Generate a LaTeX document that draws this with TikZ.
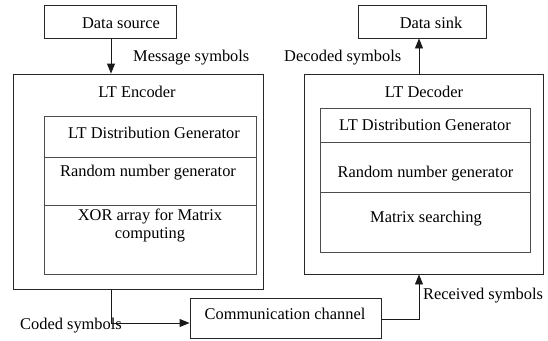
\documentclass[tikz,border=0pt]{standalone}
\usepackage{fontspec}
\setmainfont{Liberation Serif}
\usetikzlibrary{arrows.meta}
\begin{document}
\begin{tikzpicture}[x=1pt,y=-1pt,
  box/.style={draw=black!85,line width=0.9pt,inner sep=0pt,rectangle},
  part/.style={draw=black!70,line width=0.9pt,inner sep=0pt,rectangle},
  txt/.style={font=\fontsize{16.4}{18}\selectfont,inner sep=0pt,anchor=base},
  ltxt/.style={txt,anchor=base west},
  flow/.style={draw=black!90,line width=0.9pt,-{Triangle[length=10pt,width=8pt]}}]
\useasboundingbox (0,0) rectangle (548,340);

% outer blocks
\node[box,minimum width=132pt,minimum height=33pt] (src)  at (110,21.5) {};
\node[box,minimum width=128pt,minimum height=33pt] (sink) at (422,21.5) {};
\node[box,minimum width=250pt,minimum height=215pt] (enc) at (138,181.5) {};
\node[box,minimum width=239pt,minimum height=200pt] (dec) at (423.5,174) {};
\node[box,minimum width=191pt,minimum height=40pt] (chan) at (285.5,318) {};

% encoder sections
\node[part,minimum width=212pt,minimum height=41pt] (encdist) at (150,136.5) {};
\node[part,minimum width=212pt,minimum height=48pt] (encrng)  at (150,181) {};
\node[part,minimum width=212pt,minimum height=69pt] (encxor)  at (150,239.5) {};

% decoder sections
\node[part,minimum width=210pt,minimum height=34pt] (decdist) at (425,125) {};
\node[part,minimum width=210pt,minimum height=50pt] (decrng)  at (425,167) {};
\node[part,minimum width=210pt,minimum height=60pt] (decmat)  at (425,222) {};

% labels
\node[txt] (srct)  at (121,28) {Data source};
\node[txt] (sinkt) at (431,28) {Data sink};
\node[ltxt] (msg)  at (133,61) {Message symbols};
\node[ltxt] (dcd)  at (284,61) {Decoded symbols};
\node[txt] (enct)  at (137,97) {LT Encoder};
\node[txt] (dect)  at (424,97) {LT Decoder};
\node[txt] (encdistt) at (154,138) {LT Distribution Generator};
\node[txt] (encrngt)  at (148,176) {Random number generator};
\node[txt] (encxort1) at (150,220) {XOR array for Matrix};
\node[txt] (encxort2) at (150,238) {computing};
\node[txt] (decdistt) at (425,130) {LT Distribution Generator};
\node[txt] (decrngt)  at (425.5,177) {Random number generator};
\node[txt] (decmatt)  at (426,222) {Matrix searching};
\node[txt] (chant)    at (285,319) {Communication channel};
\node[ltxt] (coded)   at (20,329) {Coded symbols};
\node[ltxt] (recv)    at (423,299) {Received symbols};

% connectors
\coordinate (up) at (419,0);
\draw[flow] (src.south -| 111,0) -- (enc.north -| 111,0);
\draw[flow] (dec.north -| up) -- (sink.south -| up);
\coordinate (cbend) at (111,323);
\draw[flow] (enc.south -| cbend) -- (cbend) -- (chan.west |- cbend);
\coordinate (rbend) at (419,319);
\draw[flow] (chan.east |- rbend) -- (rbend) -- (dec.south -| rbend);
\end{tikzpicture}
\end{document}
